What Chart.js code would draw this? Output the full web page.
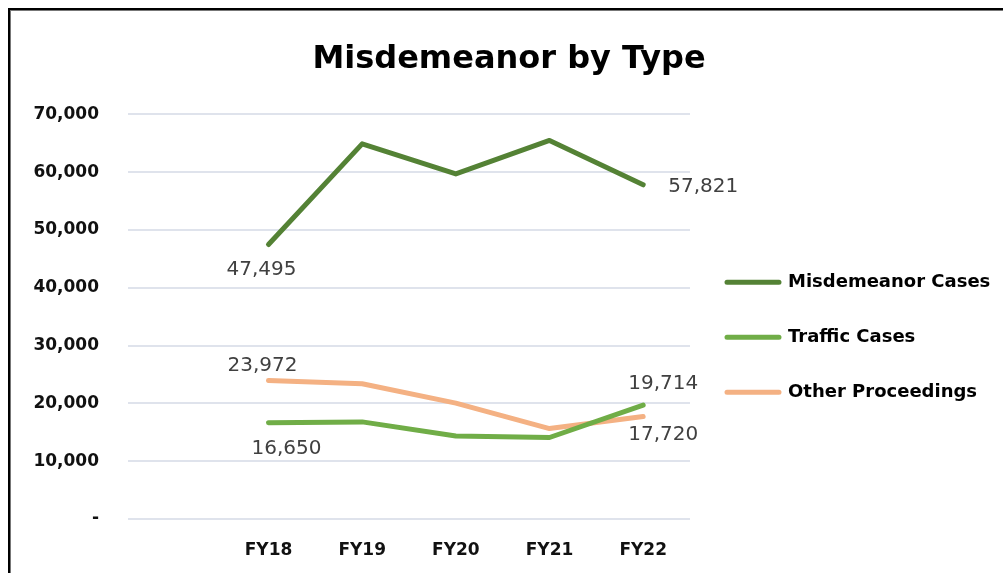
<!DOCTYPE html>
<html>
<head>
<meta charset="utf-8">
<script src="https://cdn.jsdelivr.net/npm/chart.js@4.4.1/dist/chart.umd.min.js"></script>
<style>
  html, body { margin: 0; padding: 0; background: #fff; }
  #wrap { position: relative; width: 1003px; height: 573px; }
  #chart { display: block; }
  #frame { position: absolute; left: 8px; top: 8px; right: 0; bottom: 0;
           border-top: 2px solid #000; border-left: 2px solid #000;
           box-shadow: inset 1px 1px 0 #777; pointer-events: none; }
</style>
</head>
<body>
<div id="wrap">
  <canvas id="chart" width="1003" height="573"></canvas>
  <div id="frame"></div>
</div>
<script>
// categories (first slot is an empty category, like the Excel original)
var years = ["", "FY18", "FY19", "FY20", "FY21", "FY22"];

// series values
var misdemeanorCases = [null, 47495, 64900, 59700, 65500, 57821];
var trafficCases     = [null, 16650, 16800, 14350, 14100, 19714];
var otherProceedings = [null, 23972, 23400, 20050, 15650, 17720];

// y axis ticks
var yMin = 0, yMax = 70000, yStep = 10000;

var font = "'DejaVu Sans', 'Noto Sans', sans-serif";

// draws the value labels on first and last point of each line
var valueLabels = {
  id: "valueLabels",
  afterDatasetsDraw: function(chart, args, opts) {
    var ctx = chart.ctx;
    ctx.save();
    ctx.font = "20px " + font;
    ctx.fillStyle = "#404040";
    ctx.textAlign = "center";
    ctx.textBaseline = "middle";
    opts.spots.forEach(function(s) {
      var pt = chart.getDatasetMeta(s.ds).data[s.idx];
      var v = chart.data.datasets[s.ds].data[s.idx];
      ctx.fillText(v.toLocaleString("en-US"), pt.x + s.dx, pt.y + s.dy);
    });
    ctx.restore();
  }
};

function line(label, values, color) {
  return {
    label: label,
    data: values,
    borderColor: color,
    backgroundColor: color,
    borderWidth: 5,
    borderCapStyle: "round",
    borderJoinStyle: "round",
    pointRadius: 0,
    fill: false,
    tension: 0
  };
}

new Chart(document.getElementById("chart"), {
  type: "line",
  data: {
    labels: years,
    datasets: [
      line("Misdemeanor Cases", misdemeanorCases, "#548235"),
      line("Traffic Cases", trafficCases, "#70AD47"),
      line("Other Proceedings", otherProceedings, "#F4B183")
    ]
  },
  plugins: [valueLabels],
  options: {
    responsive: false,
    animation: false,
    layout: { padding: { left: 20, top: 10, right: 5, bottom: 13 } },
    plugins: {
      title: {
        display: true,
        text: "Misdemeanor by Type",
        color: "#000",
        font: { family: font, size: 32, weight: "bold" },
        padding: { top: 30, bottom: 36 }
      },
      legend: {
        position: "right",
        fullSize: false,
        maxWidth: 308,
        title: { display: true, text: " ", font: { size: 1 }, padding: { top: 40, bottom: 0 } },
        labels: {
          boxWidth: 52,
          boxHeight: 0,
          padding: 37,
          color: "#000",
          font: { family: font, size: 18, weight: "bold" }
        }
      },
      tooltip: { enabled: false },
      valueLabels: {
        spots: [
          { ds: 0, idx: 1, dx: -7, dy: 25 },
          { ds: 0, idx: 5, dx: 60, dy: 2 },
          { ds: 1, idx: 1, dx: 18, dy: 26 },
          { ds: 1, idx: 5, dx: 20, dy: -21 },
          { ds: 2, idx: 1, dx: -6, dy: -15 },
          { ds: 2, idx: 5, dx: 20, dy: 18 }
        ]
      }
    },
    scales: {
      x: {
        offset: true,
        grid: { display: false, drawTicks: false },
        border: { display: false },
        afterFit: function(s) { s.height = 41; },
        ticks: {
          padding: 21,
          color: "#111",
          font: { family: font, size: 17, weight: "bold" }
        }
      },
      y: {
        min: yMin,
        max: yMax,
        grid: { color: "#dfe3ec", lineWidth: 2, drawTicks: false },
        border: { display: false },
        afterFit: function(s) { s.width = 108; },
        ticks: {
          stepSize: yStep,
          padding: 29,
          color: "#111",
          font: { family: font, size: 17, weight: "bold" },
          callback: function(v) { return v === 0 ? "-" : v.toLocaleString("en-US"); }
        }
      }
    }
  }
});
</script>
</body>
</html>
